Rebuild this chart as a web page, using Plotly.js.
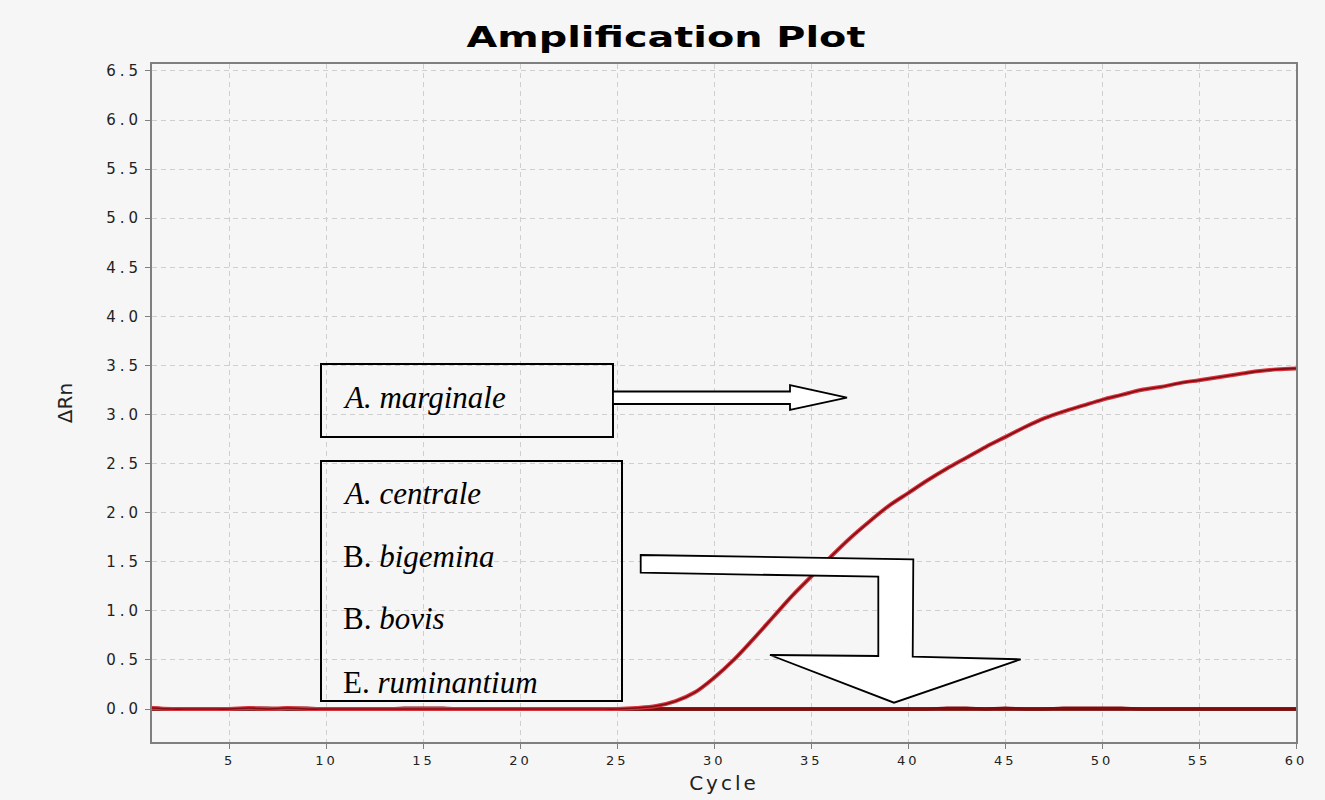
<!DOCTYPE html>
<html>
<head>
<meta charset="utf-8">
<script src="https://cdn.plot.ly/plotly-3.0.1.min.js"></script>
<style>
  html, body { margin: 0; padding: 0; background: #f6f6f6; }
  #chart { width: 1325px; height: 800px; }
  .gtitle { transform-box: fill-box; transform-origin: 50% 50%; transform: scaleX(1.42); }
  .xtick text { letter-spacing: 3px; }
  .ytick text { letter-spacing: 4px; }
  .xtitle { letter-spacing: 3px; }
</style>
</head>
<body>
<div id="chart"></div>
<script>
// ---- data ----
const cycles = [1,2,3,4,5,6,7,8,9,10,11,12,13,14,15,16,17,18,19,20,
                21,22,23,24,25,26,27,28,29,30,31,32,33,34,35,36,37,38,39,40,
                41,42,43,44,45,46,47,48,49,50,51,52,53,54,55,56,57,58,59,60];

const marginale = [0.01,0.00,0.00,0.00,0.00,0.01,0.00,0.01,0.00,0.00,
                   0.00,0.00,0.00,0.00,0.00,0.00,0.00,0.00,0.00,0.00,
                   0.00,0.00,0.00,0.00,0.00,0.01,0.03,0.08,0.17,0.32,
                   0.50,0.71,0.93,1.15,1.35,1.55,1.74,1.91,2.07,2.20,
                   2.33,2.45,2.56,2.67,2.77,2.87,2.96,3.03,3.09,3.15,
                   3.20,3.25,3.28,3.32,3.35,3.38,3.41,3.44,3.46,3.47];

const centrale = [0.01,0.00,0.00,0.00,0.00,0.01,0.01,0.00,0.00,0.00,
                  0.00,0.00,0.00,0.00,0.00,0.00,0.00,0.00,0.00,0.00,
                  0.00,0.00,0.00,0.00,0.00,0.00,0.00,0.00,0.00,0.00,
                  0.00,0.00,0.00,0.00,0.00,0.00,0.00,0.00,0.00,0.00,
                  0.00,0.00,0.00,0.00,0.00,0.00,0.00,0.00,0.00,0.00,
                  0.00,0.00,0.00,0.00,0.00,0.00,0.00,0.00,0.00,0.00];

const bigemina = [0.00,0.00,0.00,0.00,0.00,0.00,0.00,0.01,0.01,0.00,
                  0.00,0.00,0.00,0.00,0.00,0.00,0.00,0.00,0.00,0.00,
                  0.00,0.00,0.00,0.00,0.00,0.00,0.00,0.00,0.00,0.00,
                  0.00,0.00,0.00,0.00,0.00,0.00,0.00,0.00,0.00,0.00,
                  0.00,0.01,0.01,0.00,0.00,0.00,0.00,0.00,0.00,0.00,
                  0.00,0.00,0.00,0.00,0.00,0.00,0.00,0.00,0.00,0.00];

const bovis = [0.00,0.00,0.00,0.00,0.00,0.00,0.00,0.00,0.00,0.00,
               0.00,0.00,0.00,0.01,0.01,0.01,0.00,0.00,0.00,0.00,
               0.00,0.00,0.00,0.00,0.00,0.00,0.00,0.00,0.00,0.00,
               0.00,0.00,0.00,0.00,0.00,0.00,0.00,0.00,0.00,0.00,
               0.00,0.00,0.00,0.00,0.01,0.00,0.00,0.00,0.00,0.00,
               0.00,0.00,0.00,0.00,0.00,0.00,0.00,0.00,0.00,0.00];

const ruminantium = [0.00,0.00,0.00,0.00,0.00,0.00,0.00,0.00,0.00,0.00,
                     0.00,0.00,0.00,0.00,0.00,0.00,0.00,0.00,0.00,0.00,
                     0.00,0.00,0.00,0.00,0.00,0.00,0.00,0.00,0.00,0.00,
                     0.00,0.00,0.00,0.00,0.00,0.00,0.00,0.00,0.00,0.00,
                     0.00,0.00,0.00,0.00,0.00,0.00,0.00,0.01,0.01,0.01,
                     0.01,0.00,0.00,0.00,0.00,0.00,0.00,0.00,0.00,0.00];

const yTicks = [0,0.5,1,1.5,2,2.5,3,3.5,4,4.5,5,5.5,6,6.5];
const xTicks = [5,10,15,20,25,30,35,40,45,50,55,60];

const label1 = ["<i>A. marginale</i>"];
const label2 = ["<i>A. centrale</i>", "B. <i>bigemina</i>", "B. <i>bovis</i>", "E. <i>ruminantium</i>"];

// ---- geometry helpers (pixel -> data) for the overlay boxes/arrows ----
const PL = 152, PR = 1296, PT = 64, PB = 742;
const XR = [1, 60], YR = [-0.336, 6.571];
const X = p => XR[0] + (p - PL) * (XR[1] - XR[0]) / (PR - PL);
const Y = p => YR[1] - (p - PT) * (YR[1] - YR[0]) / (PB - PT);
const path = pts => 'M ' + pts.map(q => X(q[0]) + ',' + Y(q[1])).join(' L ') + ' Z';

// ---- traces ----
const baseStyle = {color: '#7d0c0c', width: 3, shape: 'spline'};
const traces = [
  {x: cycles, y: centrale, mode: 'lines', line: baseStyle, name: 'A. centrale'},
  {x: cycles, y: bigemina, mode: 'lines', line: baseStyle, name: 'B. bigemina'},
  {x: cycles, y: bovis, mode: 'lines', line: baseStyle, name: 'B. bovis'},
  {x: cycles, y: ruminantium, mode: 'lines', line: baseStyle, name: 'E. ruminantium'},
  {x: cycles, y: marginale, mode: 'lines', line: {color: '#d8323c', width: 4, shape: 'spline'}, name: 'A. marginale'},
  {x: cycles, y: marginale, mode: 'lines', line: {color: '#7a1014', width: 1.6, shape: 'spline'}, name: 'A. marginale'}
];

// ---- overlay shapes ----
const shapes = [
  {type: 'rect', xref: 'x', yref: 'y', x0: X(321), x1: X(613), y0: Y(364), y1: Y(437),
   line: {color: '#000', width: 2}, fillcolor: 'rgba(0,0,0,0)'},
  {type: 'rect', xref: 'x', yref: 'y', x0: X(321), x1: X(622), y0: Y(461), y1: Y(701),
   line: {color: '#000', width: 2}, fillcolor: 'rgba(0,0,0,0)'},
  {type: 'path', xref: 'x', yref: 'y', fillcolor: '#ffffff', line: {color: '#000', width: 1.8},
   path: path([[613,391.5],[790,391.5],[790,385],[847,397.7],[790,410],[790,404],[613,404]])},
  {type: 'path', xref: 'x', yref: 'y', fillcolor: '#ffffff', line: {color: '#000', width: 1.8},
   path: path([[640.7,555],[913.3,559.3],[912.7,656.7],[1020.7,659.3],[894,702.7],[770,655],[878.3,656],[878.3,576.7],[640.7,572.7]])}
];

const serif = {family: 'Liberation Serif, serif', size: 31, color: '#000'};
const annotations = [
  {xref: 'x', yref: 'y', x: X(341), y: Y(397), text: label1[0], showarrow: false, xanchor: 'left', yanchor: 'middle', font: serif}
];
const label2Y = [493, 556, 618, 682];
label2.forEach((t, i) => annotations.push(
  {xref: 'x', yref: 'y', x: X(341), y: Y(label2Y[i]), text: t, showarrow: false, xanchor: 'left', yanchor: 'middle', font: serif}
));

const axisCommon = {
  showline: true, mirror: true, linecolor: '#7f7f7f', linewidth: 2,
  ticks: 'outside', ticklen: 5, tickcolor: '#7f7f7f', tickwidth: 1,
  showgrid: true, gridcolor: '#cfcfcf', gridwidth: 1, griddash: '5px,4px',
  zeroline: false, fixedrange: true
};

const layout = {
  width: 1325, height: 800,
  paper_bgcolor: '#f6f6f6', plot_bgcolor: '#f6f6f6',
  margin: {l: PL, r: 1325 - PR, t: PT, b: 800 - PB},
  showlegend: false,
  title: {text: 'Amplification Plot', x: 666/1325, xref: 'container', xanchor: 'center',
          y: 1 - 37/800, yref: 'container', yanchor: 'middle',
          font: {family: 'DejaVu Sans, sans-serif', size: 28, weight: 'bold', color: '#000'}},
  xaxis: Object.assign({}, axisCommon, {
    range: XR, tickmode: 'array', tickvals: xTicks, ticktext: xTicks.map(String),
    tickfont: {family: 'DejaVu Sans, sans-serif', size: 13, color: '#222'},
    title: {text: 'Cycle', standoff: 9, font: {family: 'DejaVu Sans, sans-serif', size: 20, color: '#222'}}
  }),
  yaxis: Object.assign({}, axisCommon, {
    range: YR, tickmode: 'array', tickvals: yTicks, ticktext: yTicks.map(v => v.toFixed(1)),
    tickfont: {family: 'DejaVu Sans, sans-serif', size: 15, color: '#222'},
    title: {text: 'ΔRn', standoff: 28, font: {family: 'DejaVu Sans, sans-serif', size: 20, color: '#222'}}
  }),
  shapes: shapes,
  annotations: annotations
};

Plotly.newPlot('chart', traces, layout, {displayModeBar: false, staticPlot: true});
</script>
</body>
</html>
